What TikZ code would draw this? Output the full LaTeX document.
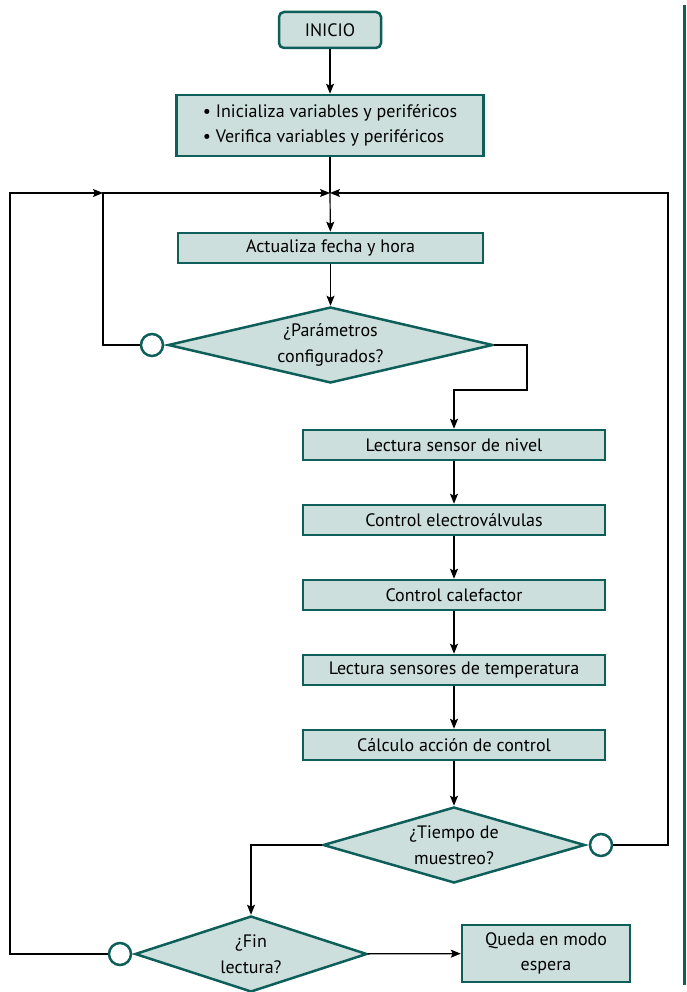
\documentclass[tikz,border=0pt]{standalone}
\usepackage{fontspec}
\setmainfont{PT Sans}
\usetikzlibrary{shapes.geometric,arrows.meta}
\definecolor{verde}{HTML}{0E5F59}
\definecolor{relleno}{HTML}{CCDFDC}
\begin{document}
\begin{tikzpicture}[x=1pt,y=-1pt]
        \tikzstyle{every node}+=[inner sep=0pt, font=\fontsize{18}{25.5}\selectfont]
        \tikzstyle{caja}=[draw=verde, fill=relleno, line width=2.5pt, minimum height=30pt, align=center]
        \tikzstyle{decision}=[diamond, draw=verde, fill=relleno, line width=2.5pt, align=center, minimum height=76pt]
        \tikzstyle{nodo}=[circle, draw=verde, fill=white, line width=2.5pt, minimum size=22pt]
        \tikzstyle{flecha}=[black, line width=1.2pt, -{Stealth[length=10pt,width=8pt,inset=2pt]}]
        \tikzstyle{linea}=[black, line width=1.2pt]
        \useasboundingbox (0,0) rectangle (687,992);
        \draw [verde, line width=3pt] (684.5,5) -- (684.5,985);
        \node [caja, rounded corners=5pt, minimum width=102pt, minimum height=36pt] (inicio) at (330,30) {INICIO};
        \node [caja, minimum width=307pt, minimum height=61pt, align=left] (init) at (330,125.5) {\textbullet\ Inicializa variables y periféricos\\\textbullet\ Verifica variables y periféricos};
        \coordinate (j1) at (330,193);
        \node [caja, minimum width=305pt] (fecha) at (330.5,248) {Actualiza fecha y hora};
        \node [decision, minimum width=325pt, aspect=4.28] (param) at (330.5,345) {¿Parámetros\\configurados?};
        \node [nodo] (c1) at (152,345) {};
        \node [caja, minimum width=302pt] (nivel) at (454,445) {Lectura sensor de nivel};
        \node [caja, minimum width=302pt] (valv) at (454,520) {Control electroválvulas};
        \node [caja, minimum width=302pt] (calef) at (454,595) {Control calefactor};
        \node [caja, minimum width=302pt] (temp) at (454,670) {Lectura sensores de temperatura};
        \node [caja, minimum width=302pt] (calc) at (454,745) {Cálculo acción de control};
        \node [decision, minimum width=262pt, aspect=3.45] (tiempo) at (454,845) {¿Tiempo de\\muestreo?};
        \node [nodo] (c2) at (601,845) {};
        \node [decision, minimum width=232pt, aspect=3.05] (fin) at (251,954) {¿Fin\\lectura?};
        \node [nodo] (c3) at (120,954) {};
        \node [caja, minimum width=168pt, minimum height=57pt] (espera) at (546,953.5) {Queda en modo\\espera};
        \draw [flecha] (inicio) -- (init);
        \draw [linea] (init) -- (j1);
        \draw [flecha] (j1) -- (fecha);
        \draw [flecha] (fecha) -- (param);
        \draw [flecha] (c3.west) -- (10,954) -- (10,193) -- (103,193);
        \draw [flecha] (c1.west) -- (103,345) -- (103,193) -- (j1);
        \draw [flecha] (c2.east) -- (668,845) -- (668,193) -- (j1);
        \draw [flecha] (param.east) -- (527,345) -- (527,390) -- (454,390) -- (nivel.north);
        \draw [flecha] (nivel) -- (valv);
        \draw [flecha] (valv) -- (calef);
        \draw [flecha] (calef) -- (temp);
        \draw [flecha] (temp) -- (calc);
        \draw [flecha] (calc) -- (tiempo);
        \draw [flecha] (tiempo.west) -- (251,845) -- (fin.north);
        \draw [flecha] (fin) -- (espera);
\end{tikzpicture}
\end{document}
